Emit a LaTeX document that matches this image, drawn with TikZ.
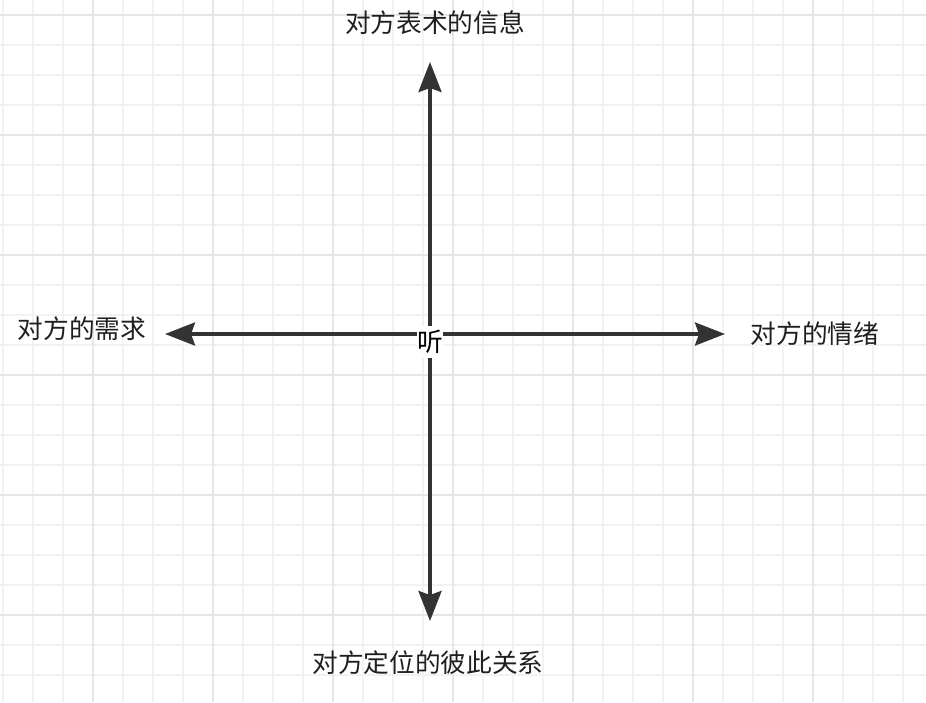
\documentclass[tikz,border=0pt]{standalone}
\usepackage{fontspec}
\newfontfamily\cjk{Noto Sans CJK SC}
\usetikzlibrary{arrows.meta}
\definecolor{minorgrid}{HTML}{F2F2F2}
\definecolor{majorgrid}{HTML}{E6E6E6}
\definecolor{axis}{HTML}{333333}
\begin{document}
\begin{tikzpicture}[x=1pt, y=-1pt, >={Stealth[length=30pt,width=23pt,inset=4pt]},
  font=\cjk\fontsize{25.7}{30}\selectfont, axisline/.style={->, draw=axis, fill=axis, line width=3.5pt}]
\useasboundingbox (0,0) rectangle (926,702);
\fill[white](0,0) rectangle (926,702);
% grid
\foreach \x in {3,33,...,923} \draw[minorgrid, line width=2pt](\x,0)--(\x,702);
\foreach \y in {15,45,...,700} \draw[minorgrid, line width=2pt](0,\y)--(926,\y);
\foreach \x in {93,213,...,923} \draw[majorgrid, line width=2pt](\x,0)--(\x,702);
\foreach \y in {15,135,...,700} \draw[majorgrid, line width=2pt](0,\y)--(926,\y);
% axes
\coordinate (o) at (430,334);
\coordinate (up) at (430,62);
\coordinate (down) at (430,621);
\coordinate (left) at (165,334);
\coordinate (right) at (725,334);
\draw[axisline](o)--(up);
\draw[axisline](o)--(down);
\draw[axisline](o)--(left);
\draw[axisline](o)--(right);
\node[fill=white, inner sep=0pt, minimum width=25pt, minimum height=32pt](ting) at (430,342){听};
\node[text=black!88](info) at (435,23){对方表术的信息};
\node[text=black!88](need) at (82,329){对方的需求};
\node[text=black!88](mood) at (815,334){对方的情绪};
\node[text=black!88](relation) at (428,663){对方定位的彼此关系};
\end{tikzpicture}
\end{document}
